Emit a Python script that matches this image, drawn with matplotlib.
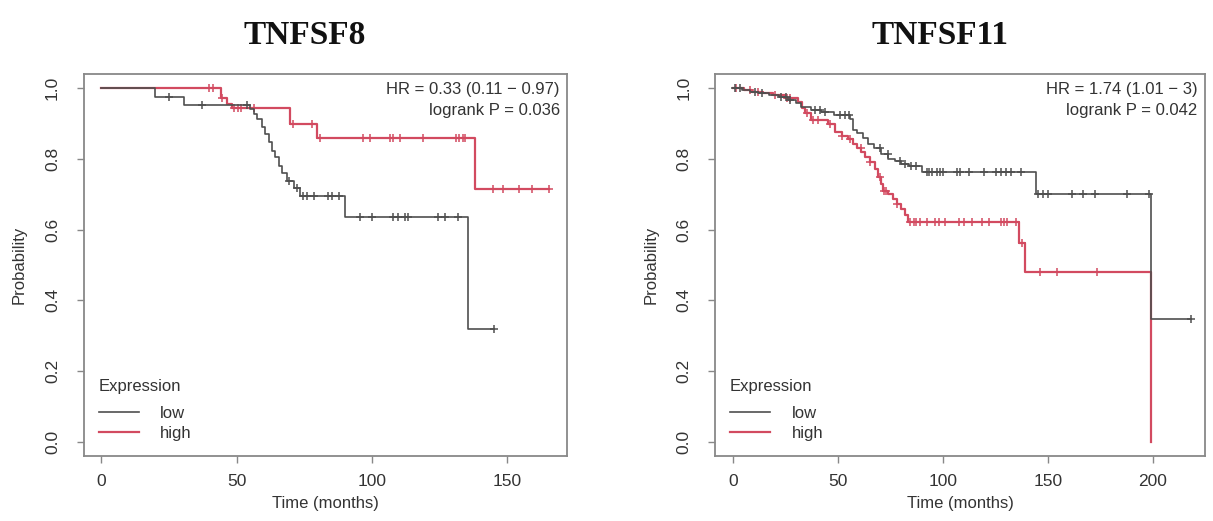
import numpy as np
import matplotlib
matplotlib.use("Agg")
import matplotlib.pyplot as plt

plt.rcParams['font.family'] = ['Liberation Sans', 'DejaVu Sans']

# TNFSF8 - tider (maaneder) og overlevelse etter hvert trinn
low8_t = [0, 20, 30.5, 55, 56.4, 57.6, 59.5, 60.7, 61.9, 63.2, 64.4, 65.6, 66.8,
          68.7, 71.1, 73.6, 90.1, 135.5, 145.3]
low8_p = [1.0, 0.976, 0.952, 0.94, 0.927, 0.913, 0.889, 0.870, 0.847, 0.823, 0.804,
          0.780, 0.761, 0.738, 0.719, 0.696, 0.636, 0.318, 0.318]
low8_cens = [25.1, 37.4, 54, 69.5, 72.3, 74.5, 76, 78.5, 84, 85.2, 87.7, 95.7, 100,
             107.9, 109.7, 112.2, 113.4, 124.5, 126.9, 131.8, 145.3]
high8_t = [0, 44.1, 46.6, 48.4, 69.9, 79.7, 138, 165.6]
high8_p = [1.0, 0.972, 0.955, 0.943, 0.90, 0.86, 0.716, 0.716]
high8_cens = [39.7, 41.2, 44.5, 49.2, 50.4, 51.6, 56.3, 71, 77.9, 81, 96.9, 99.3,
              106.7, 107.9, 110.4, 118.9, 131.2, 132.4, 133.6, 134.5, 144.7, 148.4,
              154.5, 159.4, 165.6]

# TNFSF11
low11_t = [0, 4, 8, 12, 17, 22, 26, 30, 32.5, 37, 42, 48, 55.5, 57, 59, 62, 64.3, 67,
           70.6, 74, 77, 80, 84, 90, 144.2, 199.2, 218.5]
low11_p = [1.0, 0.995, 0.99, 0.985, 0.98, 0.975, 0.967, 0.957, 0.948, 0.938, 0.932,
           0.925, 0.914, 0.881, 0.872, 0.858, 0.843, 0.83, 0.814, 0.80, 0.793, 0.786,
           0.78, 0.762, 0.70, 0.346, 0.346]
low11_cens = [0.8, 3, 10.3, 13.5, 23, 25, 27, 38.9, 41.3, 43.7, 50.8, 53.2, 55, 70,
              73.8, 79.4, 81.8, 85, 87.4, 92.2, 93.5, 94.6, 97, 98.7, 100.2, 106.7,
              108.3, 112.3, 119.6, 125.2, 127.6, 130, 132.4, 137.2, 145.3, 147.7,
              150.1, 161.4, 167, 172.6, 187.9, 198.5, 218.5]
high11_t = [0, 5, 9, 14, 19, 24.6, 30.9, 33, 34.1, 37.3, 45.2, 48.4, 52, 54.8, 57, 59,
            61.1, 63, 65, 67.4, 69, 70.5, 71.4, 74, 76.2, 78, 80.1, 82, 83.3, 136.4,
            139.3, 199.2]
high11_p = [1.0, 0.995, 0.99, 0.985, 0.98, 0.971, 0.962, 0.945, 0.929, 0.91, 0.90,
            0.876, 0.866, 0.857, 0.843, 0.83, 0.819, 0.805, 0.79, 0.771, 0.75, 0.73,
            0.71, 0.70, 0.686, 0.672, 0.657, 0.64, 0.621, 0.563, 0.481, 0.0]
high11_cens = [1.5, 8, 12, 20, 25.5, 27, 35, 38, 40.5, 46, 52, 55.5, 61, 65, 70, 71.8,
               73, 78, 84.5, 86, 87.4, 89, 92.2, 96.2, 97.9, 101, 107.5, 109.9, 113.9,
               118.8, 122, 127.6, 129.2, 130.8, 134.9, 137.9, 146.1, 154.4, 173.5]

titles = ["TNFSF8", "TNFSF11"]
hr_text = ["HR = 0.33 (0.11 \u2212 0.97)\nlogrank P = 0.036",
           "HR = 1.74 (1.01 \u2212 3)\nlogrank P = 0.042"]
x_ticks = [[0, 50, 100, 150], [0, 50, 100, 150, 200]]
y_ticks = [0.0, 0.2, 0.4, 0.6, 0.8, 1.0]

col_low = '#4f4f4f'
col_high = '#d24a60'
txt = '#333333'

W, H = 1213, 521
fig = plt.figure(figsize=(W / 100, H / 100), dpi=100)


def km(ax, t, p, cens, color, lw):
    ax.step(t, p, where='post', color=color, lw=lw)
    t = np.array(t)
    p = np.array(p)
    idx = np.searchsorted(t, cens, side='right') - 1
    ax.plot(cens, p[idx], ls='none', marker='+', ms=6, mew=1.1, color=color)


boxes = [(83.5, 567), (715, 1205)]
xlims = [(-6.6, 172.2), (-8.7, 225)]
data = [(low8_t, low8_p, low8_cens, high8_t, high8_p, high8_cens),
        (low11_t, low11_p, low11_cens, high11_t, high11_p, high11_cens)]
title_x = [305, 940]

for i in range(2):
    x0, x1 = boxes[i]
    ax = fig.add_axes([x0 / W, 1 - 456 / H, (x1 - x0) / W, (456 - 74) / H])
    lt, lp, lc, ht, hp, hc = data[i]
    km(ax, ht, hp, hc, col_high, 1.6)
    km(ax, lt, lp, lc, col_low, 1.2)
    ax.set_xlim(*xlims[i])
    ax.set_ylim(-0.04, 1.04)
    ax.set_xticks(x_ticks[i])
    ax.set_yticks(y_ticks)
    ax.set_yticklabels([f"{v:.1f}" for v in y_ticks], rotation=90, va='center')
    for s in ax.spines.values():
        s.set_color('#888888')
        s.set_linewidth(1.3)
    ax.tick_params(axis='both', length=5, width=1, color='#888888',
                   labelsize=12.5, labelcolor=txt)
    ax.tick_params(axis='x', pad=8)
    ax.tick_params(axis='y', pad=12)
    ax.set_xlabel("Time (months)", fontsize=12, color=txt, labelpad=5)
    ax.set_ylabel("Probability", fontsize=12, color=txt, labelpad=13)
    ax.text(0.985, 0.978, hr_text[i], transform=ax.transAxes, ha='right', va='top',
            fontsize=12, color=txt, linespacing=1.45)
    ax.plot([], [], color=col_low, lw=1.2, label='low')
    ax.plot([], [], color=col_high, lw=1.6, label='high')
    leg = ax.legend(loc='lower left', title='Expression', frameon=False,
                    fontsize=12, title_fontsize=12, handlelength=2.4,
                    handletextpad=1.3, labelspacing=0.3, borderaxespad=0.5)
    leg._legend_box.align = 'left'
    leg._legend_box.sep = 9
    for t in leg.get_texts():
        t.set_color(txt)
    leg.get_title().set_color(txt)
    fig.text(title_x[i] / W, 1 - 35 / H, titles[i], ha='center', va='center',
             fontsize=24, fontweight='bold', family='Liberation Serif', color='#111111')

fig.savefig('out.png', dpi=100)
